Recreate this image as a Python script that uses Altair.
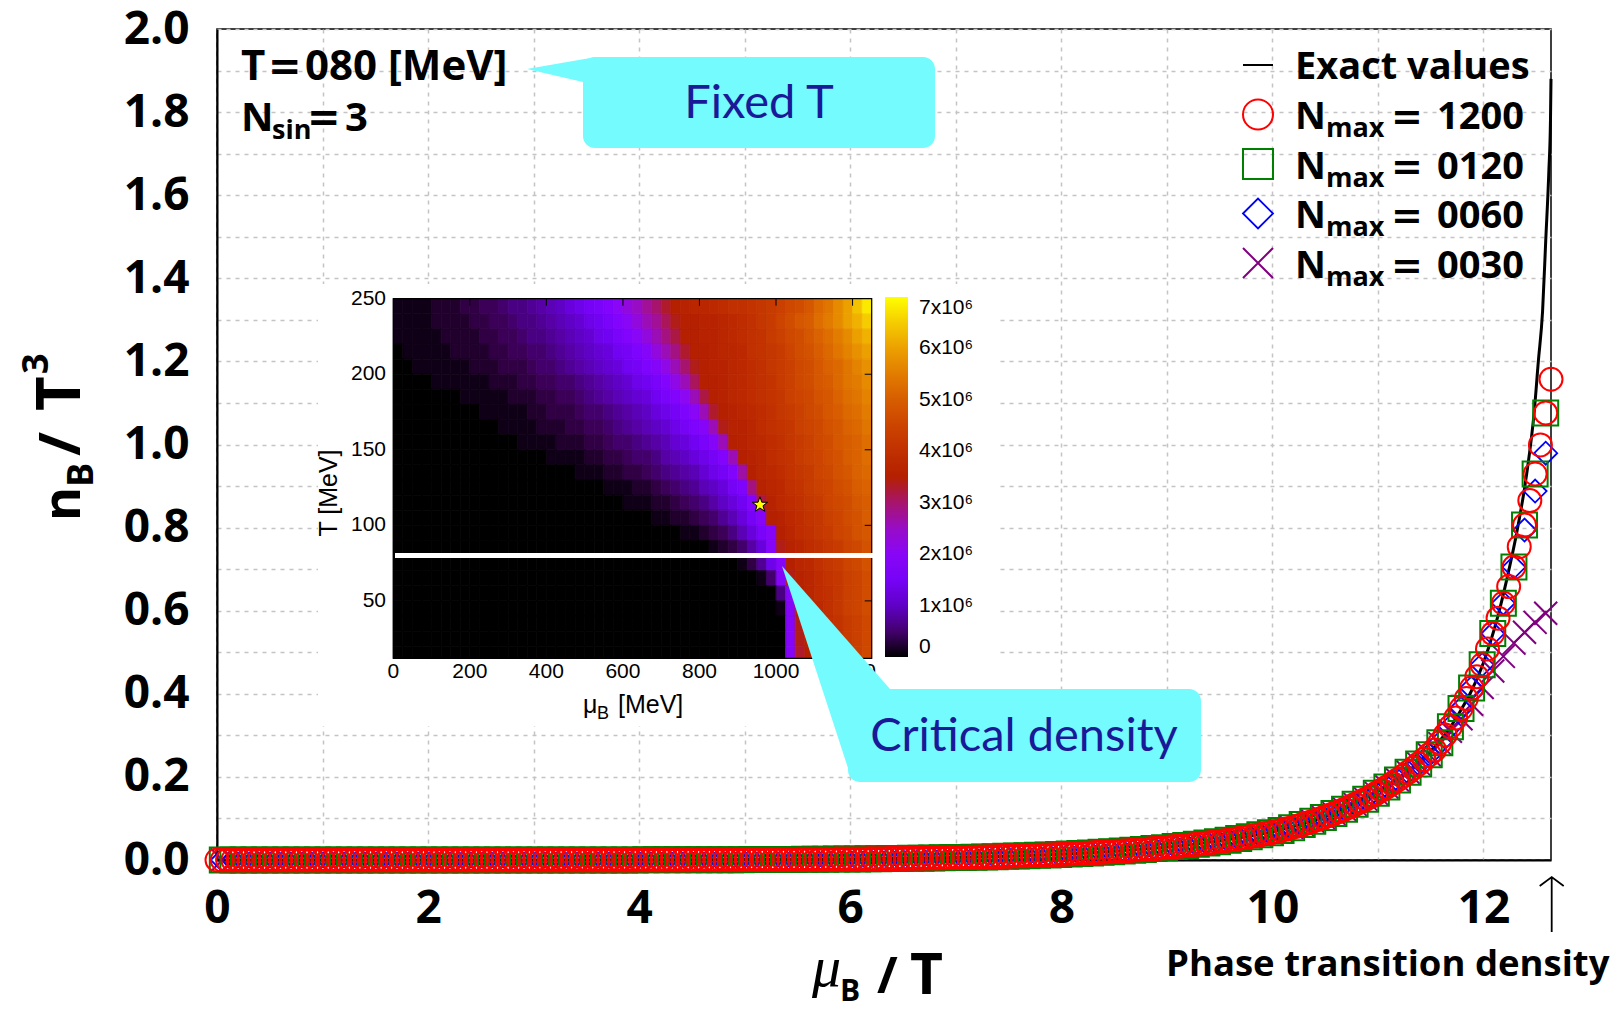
import altair as alt
import numpy as np
import pandas as pd

# ------------------------------------------------------------------ layout
L0, T0 = 217, 29          # plot origin inside the 1619x1010 page
W, H = 1334, 831          # plot area


def px(v):
    return v - L0


def py(v):
    return v - T0


BOLD = "Open Sans"
CYAN = "#73fbfd"
NAVY = "#1a1a99"

# ------------------------------------------------------------------ main data
X_MAX = 12.64                      # phase transition density (mu_B/T)
x_ticks = [0, 1, 2, 3, 4, 5, 6, 7, 8, 9, 10, 11, 12]
y_ticks = [0.0, 0.1, 0.2, 0.3, 0.4, 0.5, 0.6, 0.7, 0.8, 0.9, 1.0,
           1.1, 1.2, 1.3, 1.4, 1.5, 1.6, 1.7, 1.8, 1.9, 2.0]

# N_max = 1200, one value every ~0.05 in mu_B/T (0 ... 12.64)
n1200 = [
    0, 0, 0, 0, 0, 0, 0, 0, 0, 0, 0, 0, 0, 0, 0, 0, 0, 0, 0, 0,
    0, 0, 0, 0, 0, 0, 0, 0, 0, 0, 0, 0, 0, 0, 0, 0, 0, 0, 0, 0,
    0.0001, 0.0001, 0.0001, 0.0001, 0.0001, 0.0001, 0.0001, 0.0001, 0.0001, 0.0001,
    0.0001, 0.0001, 0.0001, 0.0001, 0.0001, 0.0001, 0.0001, 0.0001, 0.0001, 0.0001,
    0.0002, 0.0002, 0.0002, 0.0002, 0.0002, 0.0002, 0.0002, 0.0002, 0.0002, 0.0002,
    0.0003, 0.0003, 0.0003, 0.0003, 0.0003, 0.0003, 0.0003, 0.0003, 0.0003, 0.0003,
    0.0004, 0.0004, 0.0004, 0.0004, 0.0004, 0.0005, 0.0005, 0.0005, 0.0005, 0.0005,
    0.0007, 0.0007, 0.0007, 0.0007, 0.0007, 0.0009, 0.0009, 0.0009, 0.0009, 0.0009,
    0.00100, 0.00105, 0.00110, 0.00114, 0.00120, 0.00125, 0.00130, 0.00137, 0.00143, 0.00150,
    0.00157, 0.00164, 0.00172, 0.00180, 0.00188, 0.00196, 0.00205, 0.00215, 0.00225, 0.00235,
    0.00246, 0.00257, 0.00269, 0.00281, 0.00294, 0.00308, 0.00322, 0.00337, 0.00352, 0.00369,
    0.00386, 0.00403, 0.00422, 0.00441, 0.00462, 0.00483, 0.00505, 0.00528, 0.00553, 0.00578,
    0.00600,
    0.00626, 0.00653, 0.00681, 0.00711, 0.00741, 0.00773, 0.00807, 0.00842, 0.00878, 0.00916,
    0.00956, 0.00997, 0.01040, 0.01085, 0.01132, 0.01181, 0.01232, 0.01286, 0.01341, 0.01400,
    0.01457, 0.01515, 0.01576, 0.01640, 0.01706, 0.01775, 0.01847, 0.01921, 0.01999, 0.02080,
    0.02164, 0.02251, 0.02342, 0.02437, 0.02535, 0.02638, 0.02744, 0.02855, 0.02970, 0.03100,
    0.03224, 0.03354, 0.03488, 0.03628, 0.03774, 0.03925, 0.04083, 0.04246, 0.04417, 0.04594,
    0.04778, 0.04970, 0.05169, 0.05377, 0.05592, 0.05817, 0.06050, 0.06293, 0.06545, 0.06800,
    0.07114, 0.07443, 0.07786, 0.08146, 0.08522, 0.08916, 0.09328, 0.09759, 0.10210, 0.10680,
    0.11170, 0.11690, 0.12230, 0.12800, 0.13390, 0.14010, 0.14650, 0.15330, 0.16040, 0.16800,
    0.1758, 0.1840, 0.1926, 0.2016, 0.2111, 0.2209, 0.2313, 0.2421, 0.2534, 0.2650,
    0.2824, 0.3010, 0.3208, 0.3420, 0.3645, 0.3885, 0.4140, 0.4413, 0.4700, 0.5080,
    0.5450, 0.5820, 0.6180, 0.6580, 0.7050, 0.7540, 0.8060, 0.8650, 0.9290, 0.9990,
    1.0760, 1.1570,
]
# the other approximations are sampled every ~0.1 (odd points of the grid above);
# where they leave the N_max = 1200 values they are listed here
n0060_tail = [0.794, 0.888, 0.979]
n0030_tail = [0.28, 0.31, 0.34, 0.375, 0.415, 0.455, 0.49, 0.522, 0.548, 0.572, 0.594]

exact_x = [0, 2, 4, 5, 6, 7, 7.5, 8, 8.5, 9, 9.5, 10, 10.5, 11, 11.25, 11.5, 11.75,
           12.0, 12.06, 12.14, 12.22, 12.32, 12.41, 12.48, 12.52, 12.56, 12.59, 12.62,
           12.635, 12.64]
exact_y = [0, 0.0001, 0.0004, 0.001, 0.0025, 0.006, 0.009, 0.014, 0.021, 0.031, 0.046,
           0.068, 0.105, 0.166, 0.207, 0.262, 0.345, 0.475, 0.52, 0.59, 0.674, 0.794,
           0.93, 1.076, 1.2, 1.32, 1.49, 1.66, 1.78, 1.88]

grid_x = np.linspace(0, X_MAX, len(n1200))
odd_x = grid_x[1::2]
odd_y = n1200[1::2]
n0120 = list(odd_y)
n0060 = list(odd_y[:-len(n0060_tail)]) + n0060_tail
n0030 = list(odd_y[:-len(n0030_tail)]) + n0030_tail

df1200 = pd.DataFrame({"x": grid_x, "y": n1200})
df0120 = pd.DataFrame({"x": odd_x, "y": n0120})
df0060 = pd.DataFrame({"x": odd_x, "y": n0060})
df0030 = pd.DataFrame({"x": odd_x, "y": n0030})
dfexact = pd.DataFrame({"x": exact_x, "y": exact_y})

# ------------------------------------------------------------------ inset data
MU_MIN, MU_MAX = 0, 1250
T_MIN, T_MAX = 12, 250
T_FIXED = 80
critical_point = {"mu": [958], "T": [113.6]}
mu_edges = list(range(0, 1251, 25))
T_edges = [250, 240, 230, 220, 210, 200, 190, 180, 170, 160, 150, 140, 130,
           120, 110, 100, 90, 80, 70, 60, 50, 40, 30, 20, 12]
# value in units of 1e5, rows from T=250 (top) down to T=12
heat_rows = [
    [1,1,1,1,2,2,2,3,3,4,4,5,6,6,7,8,9,10,12,13,15,16,18,20,23,25,28,30,33,35,36,37,37,38,39,40,40,41,42,43,44,46,47,49,52,54,57,60,64,68],
    [1,1,1,1,2,2,2,2,3,3,4,4,5,6,6,7,8,9,10,11,13,14,16,18,20,23,26,28,31,34,35,35,36,36,37,38,39,40,42,43,45,47,49,50,53,55,57,60,62,65],
    [1,1,1,1,1,2,2,2,2,3,3,4,4,5,6,6,7,8,9,10,11,13,14,16,18,20,23,26,29,32,35,35,36,36,37,38,39,40,41,43,44,46,47,49,51,53,55,57,60,62],
    [0,1,1,1,1,1,2,2,2,2,3,3,4,4,5,5,6,7,8,9,10,11,12,14,15,17,19,23,26,29,33,35,35,36,37,37,38,40,41,42,43,45,47,48,50,52,54,56,58,60],
    [0,0,1,1,1,1,1,1,2,2,2,3,3,3,4,5,5,6,7,8,9,10,11,12,14,15,17,19,22,26,30,34,35,36,36,37,38,39,40,42,43,44,46,47,49,51,52,54,56,58],
    [0,0,0,0,1,1,1,1,1,1,2,2,2,3,3,4,4,5,5,6,7,8,9,10,11,13,14,16,18,22,26,31,35,35,36,37,38,39,40,41,43,44,46,47,49,50,52,54,55,57],
    [0,0,0,0,0,0,0,1,1,1,1,1,2,2,2,3,3,4,4,5,6,7,8,9,10,11,12,14,16,18,21,26,32,35,36,37,38,39,40,41,42,44,45,46,48,49,51,53,54,56],
    [0,0,0,0,0,0,0,0,0,1,1,1,1,1,2,2,3,3,3,4,5,5,6,7,8,9,10,12,13,15,17,20,26,33,35,36,37,38,39,40,42,43,44,46,47,49,50,52,53,55],
    [0,0,0,0,0,0,0,0,0,0,0,1,1,1,1,2,2,2,3,3,4,4,5,6,7,8,9,10,11,13,15,17,19,26,34,36,36,37,39,40,41,42,44,45,46,48,49,51,52,54],
    [0,0,0,0,0,0,0,0,0,0,0,0,0,1,1,1,1,2,2,2,3,3,4,5,5,6,7,8,9,11,12,14,16,19,26,35,36,37,38,39,40,42,43,44,46,47,49,50,51,53],
    [0,0,0,0,0,0,0,0,0,0,0,0,0,0,0,0,1,1,1,1,2,2,3,3,4,5,5,6,8,9,10,12,13,15,18,26,35,36,37,39,40,41,43,44,45,47,48,50,51,53],
    [0,0,0,0,0,0,0,0,0,0,0,0,0,0,0,0,0,0,0,1,1,1,2,2,3,3,4,5,6,7,8,9,11,13,15,18,27,35,37,38,39,41,42,43,45,46,48,49,51,52],
    [0,0,0,0,0,0,0,0,0,0,0,0,0,0,0,0,0,0,0,0,0,0,1,1,1,2,2,3,4,5,6,7,9,10,12,15,17,29,36,37,38,40,41,43,44,45,47,48,50,51],
    [0,0,0,0,0,0,0,0,0,0,0,0,0,0,0,0,0,0,0,0,0,0,0,0,1,1,1,2,2,3,4,5,6,8,10,12,14,18,32,36,38,39,40,42,43,45,46,47,49,50],
    [0,0,0,0,0,0,0,0,0,0,0,0,0,0,0,0,0,0,0,0,0,0,0,0,0,0,0,1,1,2,2,3,4,5,7,9,12,15,19,35,36,38,39,41,42,44,45,47,48,50],
    [0,0,0,0,0,0,0,0,0,0,0,0,0,0,0,0,0,0,0,0,0,0,0,0,0,0,0,0,0,0,1,1,2,3,4,6,9,12,16,19,35,37,39,40,42,43,45,46,48,49],
    [0,0,0,0,0,0,0,0,0,0,0,0,0,0,0,0,0,0,0,0,0,0,0,0,0,0,0,0,0,0,0,0,0,1,2,3,5,8,12,19,34,36,37,39,40,42,43,45,46,48],
    [0,0,0,0,0,0,0,0,0,0,0,0,0,0,0,0,0,0,0,0,0,0,0,0,0,0,0,0,0,0,0,0,0,0,0,0,1,3,7,13,19,35,37,38,40,42,43,45,46,48],
    [0,0,0,0,0,0,0,0,0,0,0,0,0,0,0,0,0,0,0,0,0,0,0,0,0,0,0,0,0,0,0,0,0,0,0,0,0,0,1,5,19,34,36,37,39,41,42,44,45,47],
    [0,0,0,0,0,0,0,0,0,0,0,0,0,0,0,0,0,0,0,0,0,0,0,0,0,0,0,0,0,0,0,0,0,0,0,0,0,0,0,0,6,19,35,37,39,40,42,44,45,47],
    [0,0,0,0,0,0,0,0,0,0,0,0,0,0,0,0,0,0,0,0,0,0,0,0,0,0,0,0,0,0,0,0,0,0,0,0,0,0,0,0,1,19,35,37,38,40,42,44,45,47],
    [0,0,0,0,0,0,0,0,0,0,0,0,0,0,0,0,0,0,0,0,0,0,0,0,0,0,0,0,0,0,0,0,0,0,0,0,0,0,0,0,0,19,34,36,38,40,41,43,44,46],
    [0,0,0,0,0,0,0,0,0,0,0,0,0,0,0,0,0,0,0,0,0,0,0,0,0,0,0,0,0,0,0,0,0,0,0,0,0,0,0,0,0,19,34,36,38,39,41,43,44,46],
    [0,0,0,0,0,0,0,0,0,0,0,0,0,0,0,0,0,0,0,0,0,0,0,0,0,0,0,0,0,0,0,0,0,0,0,0,0,0,0,0,0,19,33,35,37,39,41,42,44,46],
]
cells = []
for i, vals in enumerate(heat_rows):
    for j, v in enumerate(vals):
        cells.append({"mu0": mu_edges[j], "mu1": mu_edges[j + 1],
                      "T0": T_edges[i + 1], "T1": T_edges[i], "v": v, "edge": v})
heat_df = pd.DataFrame(cells)

mu_tick_vals = [0, 200, 400, 600, 800, 1000, 1200]
T_tick_vals = [50, 100, 150, 200, 250]
cb_values = [0, 10, 20, 30, 40, 50, 60, 70]

# gnuplot default palette (rgbformulae 7,5,15)
pal_dom = [0, 3.5, 7, 10.5, 14, 17.5, 21, 24.5, 28, 31.5, 35, 38.5, 42, 45.5,
           49, 52.5, 56, 59.5, 63, 66.5, 70]
pal_rng = ["#000000", "#39004f", "#510096", "#6301ce", "#7202f2", "#8004ff",
           "#8c07f2", "#970bce", "#a11096", "#ab174f", "#b42000", "#bd2a00",
           "#c53700", "#cd4600", "#d55700", "#dd6b00", "#e48300", "#eb9c00",
           "#f2ba00", "#f8da00", "#ffff00"]

# ------------------------------------------------------------------ helpers
one = pd.DataFrame({"k": [0]})


def txt(s, x, y, size, font=BOLD, weight="bold", color="black", align="left",
        baseline="alphabetic", angle=0, style="normal"):
    kw = dict(text=s, font=font, fontSize=size, fontWeight=weight, color=color,
              align=align, baseline=baseline, fontStyle=style)
    if angle:
        kw["angle"] = angle
    return alt.Chart(one).mark_text(**kw).encode(x=alt.value(px(x)), y=alt.value(py(y)))


def box(x1, y1, x2, y2, color, radius=0):
    kw = dict(color=color)
    if radius:
        kw["cornerRadius"] = radius
    return alt.Chart(one).mark_rect(**kw).encode(
        x=alt.value(px(x1)), x2=alt.value(px(x2)), y=alt.value(py(y1)), y2=alt.value(py(y2)))


def glyph(path, x, y, color, filled=True, sw=0):
    return alt.Chart(one).mark_point(shape=path, size=4, filled=filled, color=color,
                                     strokeWidth=sw, opacity=1).encode(
        x=alt.value(px(x)), y=alt.value(py(y)))


def sym(shape, x, y, color, size, sw):
    return alt.Chart(one).mark_point(shape=shape, size=size, filled=False, color=color,
                                     strokeWidth=sw, opacity=1).encode(
        x=alt.value(px(x)), y=alt.value(py(y)))


# ------------------------------------------------------------------ main plot
xs = alt.Scale(domain=[0, X_MAX], nice=False, zero=False)
ys = alt.Scale(domain=[0, 2], nice=False, zero=False)
common_axis = dict(grid=True, ticks=False, title=None, labelFont=BOLD,
                   labelFontWeight="bold", labelFontSize=46, labelColor="black",
                   domainColor="black", domainWidth=2, gridColor="#c4c4c4",
                   gridDash=[4, 5], gridWidth=1.5, labelOverlap=False, labelFlush=False)
x_axis = alt.Axis(values=x_ticks, format="d", labelPadding=26,
                  labelExpr="datum.value % 2 == 0 ? datum.label : ''", **common_axis)
y_axis = alt.Axis(values=y_ticks, labelPadding=28,
                  labelExpr="round(datum.value * 10) % 2 == 0 ? format(datum.value, '.1f') : ''",
                  **common_axis)
X = alt.X("x:Q", scale=xs, axis=x_axis)
Y = alt.Y("y:Q", scale=ys, axis=y_axis)


def pts(df, shape, color, size, sw):
    return alt.Chart(df).mark_point(shape=shape, filled=False, color=color, size=size,
                                    strokeWidth=sw, opacity=1).encode(x=X, y=Y)


CROSS = "M-1,-1L1,1M-1,1L1,-1"
main = alt.layer(
    alt.Chart(dfexact).mark_line(color="black", strokeWidth=3, interpolate="monotone").encode(x=X, y=Y),
    pts(df0030, CROSS, "#800080", 529, 2),
    pts(df0060, "diamond", "#0000ff", 529, 1.8),
    pts(df0120, "square", "#008000", 625, 2),
    pts(df1200, "circle", "#ff0000", 529, 2),
)

# ------------------------------------------------------------------ inset
mu_s = alt.Scale(domain=[MU_MIN, MU_MAX], range=[px(393.3), px(871.7)], nice=False, zero=False)
t_s = alt.Scale(domain=[T_MIN, T_MAX], range=[py(658.3), py(298.7)], nice=False, zero=False)
cs = alt.Scale(domain=pal_dom, range=pal_rng, interpolate="rgb")
MU_X = alt.X("mu0:Q", scale=mu_s, axis=None)
T_Y = alt.Y("T0:Q", scale=t_s, axis=None)

heat = alt.Chart(heat_df).mark_rect().encode(
    x=MU_X, x2="mu1:Q", y=T_Y, y2="T1:Q",
    color=alt.Color("v:Q", scale=cs, legend=alt.Legend(
        type="gradient", orient="none", legendX=px(885), legendY=py(297),
        direction="vertical", gradientLength=360, gradientThickness=23, title=None,
        values=cb_values,
        labelExpr="datum.value == 0 ? '0' : (datum.value / 10) + 'x10⁶'",
        labelFont="Liberation Sans", labelFontSize=21, labelColor="black",
        labelOffset=11, labelOverlap=False, gradientStrokeWidth=0)),
)
# same cells outlined in their own colour, to hide the hairline seams between cells
heat_edges = alt.Chart(heat_df).mark_rect(fillOpacity=0, strokeWidth=0.8).encode(
    x=MU_X, x2="mu1:Q", y=T_Y, y2="T1:Q",
    stroke=alt.Stroke("edge:Q", scale=cs, legend=None),
)
frame_df = pd.DataFrame({"mu0": [MU_MIN], "mu1": [MU_MAX], "T0": [T_MIN], "T1": [T_MAX]})
frame = alt.Chart(frame_df).mark_rect(fillOpacity=0, stroke="black", strokeWidth=1.2).encode(
    x=MU_X, x2="mu1:Q", y=T_Y, y2="T1:Q")
mu_tick_df = pd.DataFrame({"mu": mu_tick_vals, "lab": [str(v) for v in mu_tick_vals]})
T_tick_df = pd.DataFrame({"T": T_tick_vals, "lab": [str(v) for v in T_tick_vals]})
top_ticks = alt.Chart(mu_tick_df[mu_tick_df.mu > 0]).mark_rule(color="black", strokeWidth=1).encode(
    x=alt.X("mu:Q", scale=mu_s, axis=None), y=alt.value(py(298.7)), y2=alt.value(py(305.7)))
right_ticks = alt.Chart(T_tick_df[T_tick_df["T"] < 250]).mark_rule(color="black", strokeWidth=1).encode(
    y=alt.Y("T:Q", scale=t_s, axis=None), x=alt.value(px(864.7)), x2=alt.value(px(871.7)))
mu_labels = alt.Chart(mu_tick_df).mark_text(font="Liberation Sans", fontSize=21, color="black",
                                            baseline="middle", align="center").encode(
    x=alt.X("mu:Q", scale=mu_s, axis=None), y=alt.value(py(672)), text="lab:N")
T_labels = alt.Chart(T_tick_df).mark_text(font="Liberation Sans", fontSize=21, color="black",
                                          baseline="middle", align="right").encode(
    y=alt.Y("T:Q", scale=t_s, axis=None), x=alt.value(px(386)), text="lab:N")
fixed_line = alt.Chart(pd.DataFrame({"T": [T_FIXED]})).mark_rule(color="white", strokeWidth=5).encode(
    y=alt.Y("T:Q", scale=t_s, axis=None), x=alt.value(px(395)), x2=alt.value(px(911)))
STAR = ("M0,-1L0.235,-0.324L0.951,-0.309L0.38,0.124L0.588,0.809L0,0.4L-0.588,0.809"
        "L-0.38,0.124L-0.951,-0.309L-0.235,-0.324Z")
star = alt.Chart(pd.DataFrame(critical_point)).mark_point(
    shape=STAR, size=256, filled=True, fill="#ffff00", stroke="black", strokeWidth=1,
    opacity=1).encode(x=alt.X("mu:Q", scale=mu_s, axis=None), y=alt.Y("T:Q", scale=t_s, axis=None))

inset = alt.layer(
    box(318, 284, 996, 726, "white"),
    heat, heat_edges, frame, top_ticks, right_ticks, mu_labels, T_labels, fixed_line, star,
).resolve_legend(color="independent", stroke="independent")

# ------------------------------------------------------------------ annotations
legend_rows = [114.5, 164, 213.5, 263]
legend_syms = [("circle", "#ff0000", 2), ("square", "#008000", 2),
               ("diamond", "#0000ff", 1.8), (CROSS, "#800080", 2)]
legend_nums = ["1200", "0120", "0060", "0030"]

ann = [
    alt.Chart(one).mark_rule(color="black", strokeWidth=2).encode(
        x=alt.value(px(1243)), x2=alt.value(px(1273)), y=alt.value(py(65))),
    txt("Exact values", 1295, 79, 38),
]
for yc, (shape, col, sw), num in zip(legend_rows, legend_syms, legend_nums):
    ann += [
        sym(shape, 1258, yc, col, 900, sw),
        txt("N", 1295, yc + 14.5, 38),
        txt("max", 1326, yc + 22.5, 27),
        txt("=", 1391, yc + 14.5, 38, font="DejaVu Sans"),
        txt(num, 1437, yc + 14.5, 38),
    ]

ann += [
    # run parameters
    txt("T", 241, 80, 42),
    txt("=", 268, 80, 40, font="DejaVu Sans"),
    txt("080 [MeV]", 305, 80, 42),
    txt("N", 241, 131, 40),
    txt("sin", 272, 139, 27),
    txt("=", 307, 131, 40, font="DejaVu Sans"),
    txt("3", 345, 131, 40),
    # callouts
    glyph("M0,0L69,-12L56,13Z", 527, 69, CYAN),
    box(583, 57, 935, 148, CYAN, 12),
    txt("Fixed T", 759, 104, 47, font="Lato", weight="normal", color=NAVY,
        align="center", baseline="middle"),
    glyph("M0,0L108,123L66,202Z", 782, 566, CYAN),
    box(848, 689, 1201, 782, CYAN, 12),
    txt("Critical density", 1024, 737, 47, font="Lato", weight="normal", color=NAVY,
        align="center", baseline="middle"),
    # phase transition marker
    glyph("M0,0L0,55M-12,9L0,0L12,9", 1551.7, 877, "black", filled=False, sw=1.8),
    txt("Phase transition density", 1166, 976, 36.5),
    # inset axis titles
    txt("T [MeV]", 329, 493, 25, font="Liberation Sans", weight="normal",
        align="center", baseline="middle", angle=270),
    txt("μ", 583, 713, 25, font="Liberation Sans", weight="normal"),
    txt("B", 597, 719, 18, font="Liberation Sans", weight="normal"),
    txt("[MeV]", 618, 713, 25, font="Liberation Sans", weight="normal"),
    # main y title  n_B / T^3
    txt("n", 80, 521, 52, angle=270),
    txt("B", 93, 487, 36, angle=270),
    txt("/", 80, 456, 58, angle=270),
    txt("T", 80, 411, 60, angle=270),
    txt("3", 48, 374, 36, angle=270),
    # main x title  mu_B / T
    txt("μ", 812, 986, 58, font="Liberation Serif", weight="normal", style="italic"),
    txt("B", 840, 1001, 30),
    txt("/", 877, 993, 50),
    txt("T", 910, 994, 57),
]
annotations = alt.layer(*ann)

chart = alt.layer(main, inset, annotations).resolve_scale(
    x="independent", y="independent"
).properties(
    width=W, height=H,
    padding={"left": L0, "top": T0, "right": 1619 - L0 - W, "bottom": 1010 - T0 - H},
    autosize=alt.AutoSizeParams(type="none"),
    background="white",
).configure_view(stroke="black", strokeWidth=1.5)

chart.save("out.html", embed_options={"renderer": "svg", "actions": False})
